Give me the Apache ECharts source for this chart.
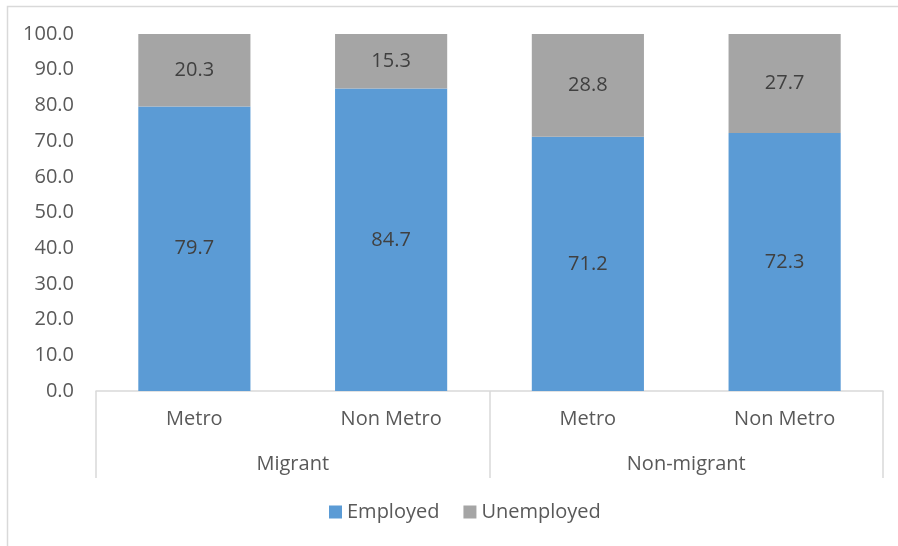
<!DOCTYPE html>
<html>
<head>
<meta charset="utf-8">
<script src="https://cdn.jsdelivr.net/npm/echarts@6/dist/echarts.min.js"></script>
<style>
  html, body { margin: 0; padding: 0; background: #fff; }
  #chart { width: 898px; height: 546px; }
</style>
</head>
<body>
<div id="chart"></div>
<script>
// Employment status by residence type (percent)
const areaTypes = ['Metro', 'Non Metro', 'Metro', 'Non Metro'];
const groups = ['Migrant', 'Non-migrant'];
const employed = [79.7, 84.7, 71.2, 72.3];
const unemployed = [20.3, 15.3, 28.8, 27.7];

const FONT = 'Open Sans';
const SIZE = 20;
const TEXT = '#595959';
const LINE = '#d9d9d9';

const chart = echarts.init(document.getElementById('chart'), null, { renderer: 'canvas' });

const labelStyle = {
  show: true,
  position: 'inside',
  color: '#404040',
  fontFamily: FONT,
  fontSize: SIZE,
  formatter: p => p.value.toFixed(1)
};

chart.setOption({
  animation: false,
  backgroundColor: '#ffffff',
  textStyle: { fontFamily: FONT },
  graphic: [{
    type: 'rect',
    shape: { x: 7.5, y: 6.5, width: 1000, height: 1000 },
    style: { fill: 'none', stroke: LINE, lineWidth: 1.5 },
    silent: true
  }],
  grid: { left: 96, right: 15, top: 34, bottom: 155, containLabel: false },
  legend: {
    bottom: 19,
    left: 324,
    itemWidth: 13,
    itemHeight: 13,
    itemGap: 24,
    icon: 'rect',
    textStyle: { color: TEXT, fontFamily: FONT, fontSize: SIZE, padding: [0, 0, 0, 0] },
    data: ['Employed', 'Unemployed']
  },
  xAxis: [{
    type: 'category',
    data: areaTypes,
    position: 'bottom',
    axisLine: { show: true, lineStyle: { color: LINE, width: 1.5 } },
    axisTick: { show: false },
    axisLabel: { color: TEXT, fontFamily: FONT, fontSize: SIZE, margin: 18 },
    splitLine: { show: false }
  }, {
    type: 'category',
    data: groups,
    position: 'bottom',
    offset: 0,
    boundaryGap: true,
    axisLine: { show: false },
    axisTick: { show: true, length: 87, alignWithLabel: false, lineStyle: { color: LINE, width: 1.5 } },
    axisLabel: { color: TEXT, fontFamily: FONT, fontSize: SIZE, margin: 63 },
    splitLine: { show: false }
  }],
  yAxis: {
    type: 'value',
    min: 0,
    max: 100,
    interval: 10,
    axisLine: { show: false },
    axisTick: { show: false },
    splitLine: { show: false },
    axisLabel: {
      color: TEXT, fontFamily: FONT, fontSize: SIZE, margin: 22,
      formatter: v => v.toFixed(1)
    }
  },
  series: [{
    name: 'Employed',
    type: 'bar',
    stack: 'total',
    xAxisIndex: 0,
    barWidth: '57%',
    itemStyle: { color: '#5b9bd5' },
    label: labelStyle,
    data: employed
  }, {
    name: 'Unemployed',
    type: 'bar',
    stack: 'total',
    xAxisIndex: 0,
    barWidth: '57%',
    itemStyle: { color: '#a5a5a5' },
    label: labelStyle,
    data: unemployed
  }]
});
</script>
</body>
</html>
